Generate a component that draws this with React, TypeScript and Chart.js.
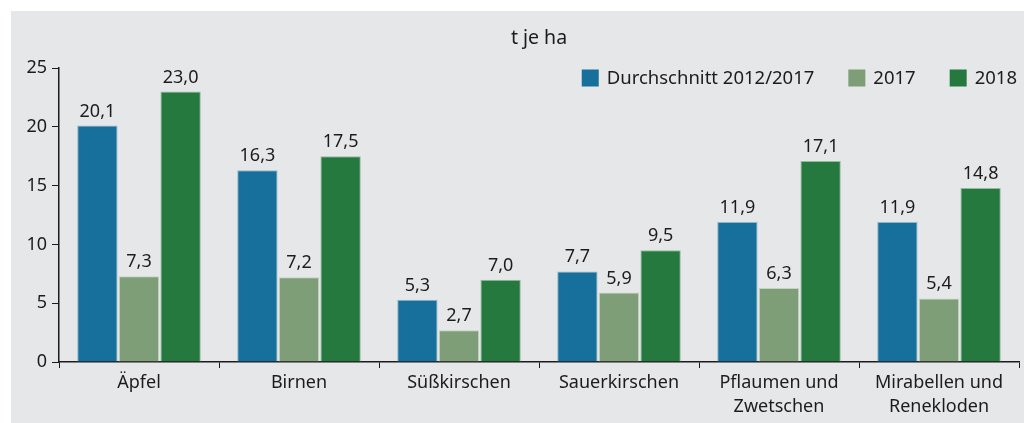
import React, { useEffect, useRef } from "react";
import { Chart, registerables } from "chart.js";

Chart.register(...registerables);

const categories: (string | string[])[] = [
  "Äpfel",
  "Birnen",
  "Süßkirschen",
  "Sauerkirschen",
  ["Pflaumen und", "Zwetschen"],
  ["Mirabellen und", "Renekloden"],
];
const seriesLabels = ["Durchschnitt 2012/2017", "2017", "2018"];
const avg = [20.1, 16.3, 5.3, 7.7, 11.9, 11.9];
const y2017 = [7.3, 7.2, 2.7, 5.9, 6.3, 5.4];
const y2018 = [23.0, 17.5, 7.0, 9.5, 17.1, 14.8];
const yTicks = [0, 5, 10, 15, 20, 25];
const titleText = "t je ha";

const colors = ["#176f9b", "#7e9e78", "#26793e"];
const borders = ["#8fb6cc", "#c4d2c1", "#90bb9c"];
const FONT = '"Noto Sans", "Open Sans", sans-serif';
const TEXT = "#1e1b1c";

export default function App() {
  const ref = useRef<HTMLCanvasElement | null>(null);
  useEffect(() => {
    if (!ref.current) return;
    const overlay = {
      id: "overlay",
      afterDraw(chart: any) {
        const ctx = chart.ctx;
        const area = chart.chartArea;
        ctx.save();
        // data labels
        ctx.font = `18px ${FONT}`;
        ctx.fillStyle = TEXT;
        ctx.textAlign = "center";
        ctx.textBaseline = "alphabetic";
        chart.data.datasets.forEach((ds: any, i: number) => {
          const meta = chart.getDatasetMeta(i);
          meta.data.forEach((bar: any, j: number) => {
            const v = ds.data[j];
            ctx.fillText(v.toFixed(1).replace(".", ","), bar.x, bar.y - 9);
          });
        });
        // title
        ctx.font = `19.5px ${FONT}`;
        ctx.fillText(titleText, (area.left + area.right) / 2, 33);
        // legend (right aligned)
        ctx.font = `18.5px ${FONT}`;
        ctx.textAlign = "left";
        ctx.textBaseline = "middle";
        const box = 17;
        const gapBT = 8;
        const gapItems = 34;
        let x = area.right - 2;
        const cy = 67;
        const widths = seriesLabels.map((l) => ctx.measureText(l).width);
        const pos: number[] = [];
        for (let i = seriesLabels.length - 1; i >= 0; i--) {
          x -= widths[i];
          pos[i] = x;
          x -= gapBT + box + gapItems;
        }
        seriesLabels.forEach((l, i) => {
          ctx.fillStyle = colors[i];
          ctx.fillRect(pos[i] - gapBT - box, cy - box / 2, box, box);
          ctx.fillStyle = TEXT;
          ctx.fillText(l, pos[i], cy + 1);
        });
        ctx.restore();
      },
    };
    const chart = new Chart(ref.current, {
      type: "bar",
      data: {
        labels: categories,
        datasets: [avg, y2017, y2018].map((d, i) => ({
          label: seriesLabels[i],
          data: d,
          backgroundColor: colors[i],
          borderColor: borders[i],
          borderWidth: 1,
          categoryPercentage: 0.78,
          barPercentage: 0.97,
        })),
      },
      options: {
        animation: false,
        responsive: false,
        maintainAspectRatio: false,
        layout: { padding: { top: 57, right: 5, left: 0, bottom: 0 } },
        plugins: {
          legend: { display: false },
          title: { display: false },
          tooltip: { enabled: false },
        },
        scales: {
          x: {
            grid: {
              display: true,
              drawOnChartArea: false,
              offset: true,
              tickLength: 6,
              color: TEXT,
              lineWidth: 1,
            },
            border: { display: true, color: TEXT, width: 1.5 },
            ticks: {
              color: TEXT,
              font: { family: FONT, size: 18, lineHeight: 1.33 },
              padding: 3,
              maxRotation: 0,
              autoSkip: false,
            },
            afterFit: (s: any) => {
              s.height = 61;
            },
          },
          y: {
            min: 0,
            max: 25,
            grid: {
              display: true,
              drawOnChartArea: false,
              tickLength: 7,
              color: TEXT,
            },
            border: { display: true, color: TEXT, width: 1.5 },
            afterBuildTicks: (s: any) => {
              s.ticks = yTicks.map((v) => ({ value: v }));
            },
            ticks: {
              color: TEXT,
              font: { family: FONT, size: 18 },
              padding: 5,
            },
            afterFit: (s: any) => {
              s.width = 48;
            },
          },
        },
      },
      plugins: [overlay],
    });
    return () => chart.destroy();
  }, []);
  return (
    <div
      style={{
        position: "fixed",
        left: 11,
        top: 11,
        width: 1013,
        height: 412,
        background: "#e6e7e9",
      }}
    >
      <canvas ref={ref} width={1013} height={412} style={{ display: "block" }} />
    </div>
  );
}
